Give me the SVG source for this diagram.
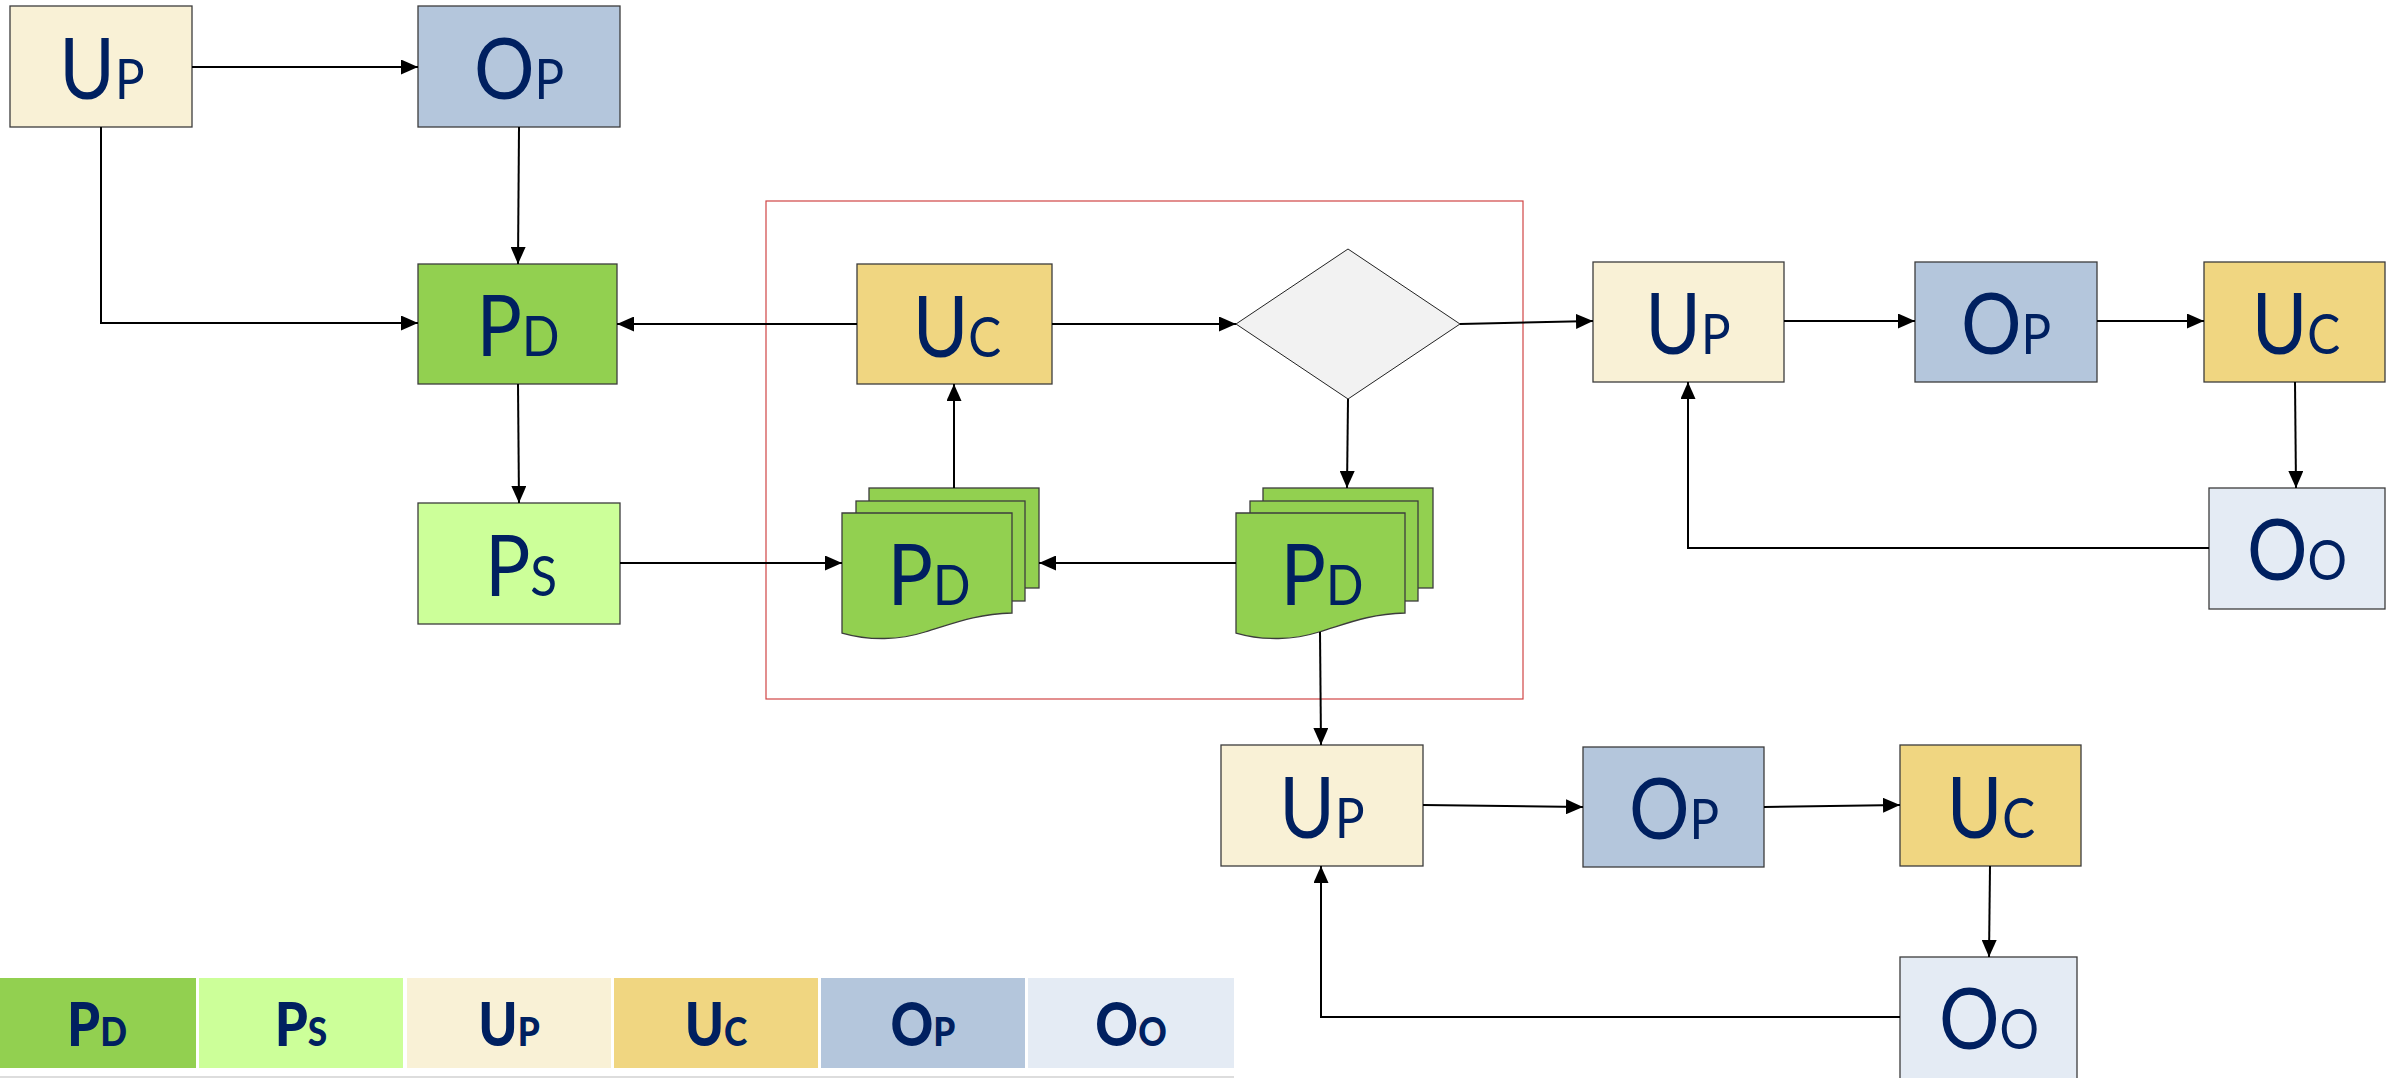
<svg xmlns="http://www.w3.org/2000/svg" width="2397" height="1078" viewBox="0 0 2397 1078">
<defs>
<marker id="ah" markerUnits="userSpaceOnUse" markerWidth="17" markerHeight="15" refX="17" refY="7.5" orient="auto">
<path d="M0,0 L17,7.5 L0,15 Z" fill="#000"/>
</marker>
<style>
.n{stroke:#3c3c3c;stroke-width:1.3}
.pd{fill:#92D050}.ps{fill:#CCFF99}.up{fill:#F9F1D6}.uc{fill:#F0D681}.op{fill:#B4C6DC}.oo{fill:#E4EBF4}
.t{font-family:Lato,"Open Sans","Noto Sans",sans-serif;font-size:86px;fill:#002060;text-anchor:middle;transform-box:fill-box;transform-origin:center;transform:scaleX(0.88)}
.s{font-size:56px}
.lt{font-family:Lato,"Open Sans","Noto Sans",sans-serif;font-weight:900;font-size:60px;fill:#002060;text-anchor:middle;transform-box:fill-box;transform-origin:center;transform:scaleX(0.88)}
.ls{font-size:40px}
.c{fill:none;stroke:#000;stroke-width:2;marker-end:url(#ah)}
</style>
</defs>
<rect width="2397" height="1078" fill="#fff"/>
<rect id="frame" x="766" y="201" width="757" height="498" fill="none" stroke="#D04545" stroke-width="1.2"/>

<g id="up1"><rect class="n up" x="10" y="6" width="182" height="121"/><text class="t" x="102" y="99">U<tspan class="s">P</tspan></text></g>
<g id="op1"><rect class="n op" x="418" y="6" width="202" height="121"/><text class="t" x="519" y="99">O<tspan class="s">P</tspan></text></g>
<g id="pd1"><rect class="n pd" x="418" y="264" width="199" height="120"/><text class="t" x="518" y="356">P<tspan class="s">D</tspan></text></g>
<g id="ps1"><rect class="n ps" x="418" y="503" width="202" height="121"/><text class="t" x="521" y="596">P<tspan class="s">S</tspan></text></g>
<g id="uc1"><rect class="n uc" x="857" y="264" width="195" height="120"/><text class="t" x="957" y="357">U<tspan class="s">C</tspan></text></g>
<g id="decision"><polygon points="1348,249 1460,324 1348,399 1236,324" fill="#F2F2F2" stroke="#222" stroke-width="1"/></g>
<g id="doc1">
<rect class="n pd" x="869" y="488" width="170" height="100"/>
<rect class="n pd" x="856" y="501" width="169" height="100"/>
<path class="n pd" d="M842,513 H1012 V613 C975,614 952,624 925,632 C900,640 870,641 842,633 Z"/>
<text class="t" x="929" y="605">P<tspan class="s">D</tspan></text>
</g>
<g id="doc2">
<rect class="n pd" x="1263" y="488" width="170" height="100"/>
<rect class="n pd" x="1250" y="501" width="168" height="100"/>
<path class="n pd" d="M1236,513 H1405 V613 C1368,614 1346,624 1319,632 C1294,640 1264,641 1236,633 Z"/>
<text class="t" x="1322" y="605">P<tspan class="s">D</tspan></text>
</g>
<g id="up2"><rect class="n up" x="1593" y="262" width="191" height="120"/><text class="t" x="1688" y="354">U<tspan class="s">P</tspan></text></g>
<g id="op2"><rect class="n op" x="1915" y="262" width="182" height="120"/><text class="t" x="2006" y="354">O<tspan class="s">P</tspan></text></g>
<g id="uc2"><rect class="n uc" x="2204" y="262" width="181" height="120"/><text class="t" x="2296" y="354">U<tspan class="s">C</tspan></text></g>
<g id="oo2"><rect class="n oo" x="2209" y="488" width="176" height="121"/><text class="t" x="2297" y="580">O<tspan class="s">O</tspan></text></g>
<g id="up3"><rect class="n up" x="1221" y="745" width="202" height="121"/><text class="t" x="1322" y="838">U<tspan class="s">P</tspan></text></g>
<g id="op3"><rect class="n op" x="1583" y="747" width="181" height="120"/><text class="t" x="1674" y="839">O<tspan class="s">P</tspan></text></g>
<g id="uc3"><rect class="n uc" x="1900" y="745" width="181" height="121"/><text class="t" x="1991" y="838">U<tspan class="s">C</tspan></text></g>
<g id="oo3"><rect class="n oo" x="1900" y="957" width="177" height="125"/><text class="t" x="1989" y="1049">O<tspan class="s">O</tspan></text></g>

<g id="connectors">
<path class="c" d="M192,67 H418"/>
<path class="c" d="M519,127 L518,264"/>
<path class="c" d="M101,127 V323 H418"/>
<path class="c" d="M857,324 H617"/>
<path class="c" d="M518,384 L519,503"/>
<path class="c" d="M620,563 H842"/>
<path class="c" d="M954,488 V384"/>
<path class="c" d="M1052,324 H1236"/>
<path class="c" d="M1460,324 L1593,321"/>
<path class="c" d="M1348,399 L1347,488"/>
<path class="c" d="M1236,563 H1039"/>
<path class="c" d="M1320,632 L1321,745"/>
<path class="c" d="M1784,321 H1915"/>
<path class="c" d="M2097,321 H2204"/>
<path class="c" d="M2295,382 L2296,488"/>
<path class="c" d="M2209,548 H1688 V382"/>
<path class="c" d="M1423,805 L1583,807"/>
<path class="c" d="M1764,807 L1900,805"/>
<path class="c" d="M1990,866 L1989,957"/>
<path class="c" d="M1900,1017 H1321 V866"/>
</g>

<g id="legend">
<rect class="pd" x="0" y="978" width="196" height="90"/>
<rect class="ps" x="199" y="978" width="204" height="90"/>
<rect class="up" x="407" y="978" width="204" height="90"/>
<rect class="uc" x="614" y="978" width="204" height="90"/>
<rect class="op" x="821" y="978" width="204" height="90"/>
<rect class="oo" x="1028" y="978" width="206" height="90"/>
<rect x="0" y="1076" width="1234" height="2" fill="#DDDDDD"/>
<text class="lt" x="97" y="1046">P<tspan class="ls">D</tspan></text>
<text class="lt" x="301" y="1046">P<tspan class="ls">S</tspan></text>
<text class="lt" x="509" y="1046">U<tspan class="ls">P</tspan></text>
<text class="lt" x="716" y="1046">U<tspan class="ls">C</tspan></text>
<text class="lt" x="923" y="1046">O<tspan class="ls">P</tspan></text>
<text class="lt" x="1131" y="1046">O<tspan class="ls">O</tspan></text>
</g>
</svg>
